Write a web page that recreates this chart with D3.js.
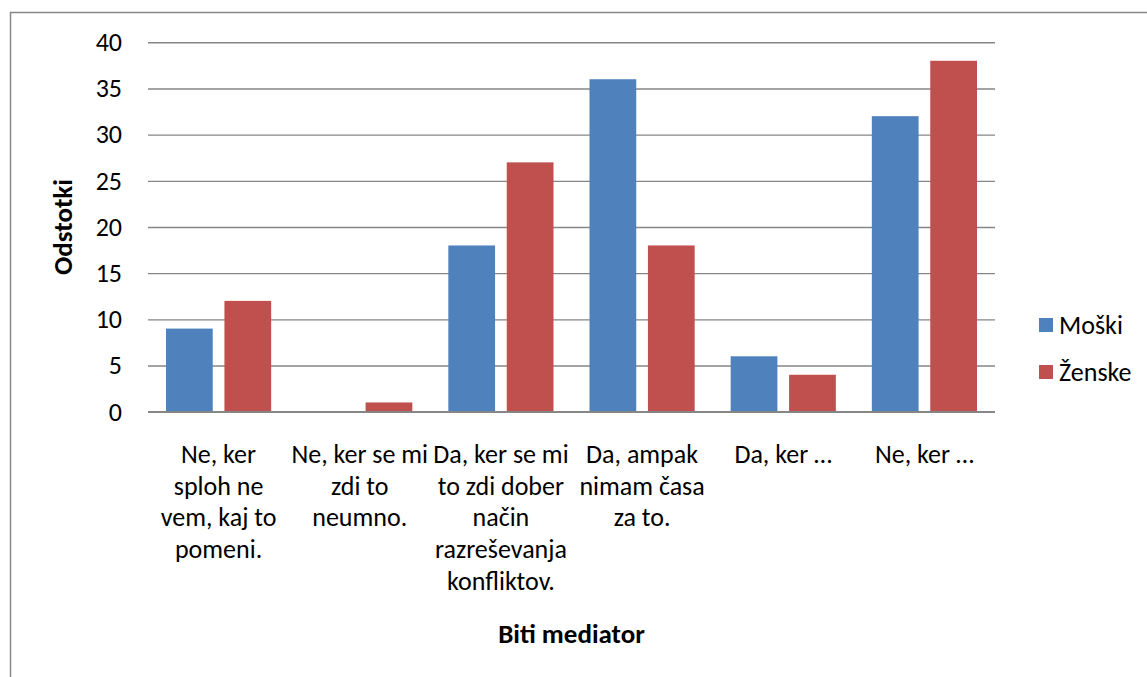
<!DOCTYPE html>
<html lang="sl">
<head>
<meta charset="UTF-8">
<script src="https://d3js.org/d3.v7.min.js"></script>
<style>
  body { margin: 0; background: #fff; }
  svg text { font-family: Carlito, Calibri, Lato, sans-serif; fill: #000; }
</style>
</head>
<body>
<div id="chart"></div>
<script>
// categories (full text) and how they wrap under the axis
const categories = [
  "Ne, ker sploh ne vem, kaj to pomeni.",
  "Ne, ker se mi zdi to neumno.",
  "Da, ker se mi to zdi dober način razreševanja konfliktov.",
  "Da, ampak nimam časa za to.",
  "Da, ker …",
  "Ne, ker …"
];
const categoryLines = [
  ["Ne, ker", "sploh ne", "vem, kaj to", "pomeni."],
  ["Ne, ker se mi", "zdi to", "neumno."],
  ["Da, ker se mi", "to zdi dober", "način", "razreševanja", "konfliktov."],
  ["Da, ampak", "nimam časa", "za to."],
  ["Da, ker …"],
  ["Ne, ker …"]
];
const seriesNames = ["Moški", "Ženske"];
const moski = [9, 0, 18, 36, 6, 32];
const zenske = [12, 1, 27, 18, 4, 38];
const yTicks = [0, 5, 10, 15, 20, 25, 30, 35, 40];
const colors = ["#4F81BD", "#C0504D"];

const W = 1147, H = 677;
const plot = { left: 148, right: 995, top: 42.3, bottom: 411.7 };
const fontSize = 26;
const titleSize = 27;

const svg = d3.select('#chart').append('svg')
    .attr('width', W)
    .attr('height', H);

// outer frame of the chart
svg.append('rect')
    .attr('x', 10.5).attr('y', 12.5)
    .attr('width', 1300).attr('height', 800)
    .attr('fill', 'none')
    .attr('stroke', '#888888')
    .attr('stroke-width', 1.5);

const x0 = d3.scaleBand()
    .domain(categories)
    .range([plot.left, plot.right])
    .padding(0);

const outer = x0.bandwidth() * 0.1275;
const x1 = d3.scaleBand()
    .domain(seriesNames)
    .range([outer, x0.bandwidth() - outer])
    .paddingInner(0.2)
    .paddingOuter(0);

const y = d3.scaleLinear()
    .domain([0, 40])
    .range([plot.bottom, plot.top]);

// gridlines + y labels
const yAxis = svg.append('g')
    .attr('class', 'axis axis--y')
    .attr('transform', 'translate(' + plot.left + ',0)')
    .call(d3.axisLeft(y).tickValues(yTicks).tickSize(-(plot.right - plot.left)).tickPadding(26));
yAxis.select('.domain').remove();
yAxis.selectAll('.tick line')
    .attr('stroke', '#868686')
    .attr('stroke-width', 1.4);
yAxis.selectAll('.tick text')
    .style('font-size', fontSize + 'px')
    .attr('font-family', null);

// bars
const data = categories.map((c, i) => ({ cat: c, values: [moski[i], zenske[i]] }));
const groups = svg.selectAll('.grp')
    .data(data)
    .enter().append('g')
    .attr('class', 'grp')
    .attr('transform', d => 'translate(' + x0(d.cat) + ',0)');

groups.selectAll('rect')
    .data(d => d.values.map((v, j) => ({ name: seriesNames[j], value: v, j: j })))
    .enter().append('rect')
    .attr('x', d => x1(d.name))
    .attr('y', d => y(d.value))
    .attr('width', x1.bandwidth())
    .attr('height', d => y(0) - y(d.value))
    .attr('fill', d => colors[d.j]);

// zero line on top
svg.append('line')
    .attr('x1', plot.left).attr('x2', plot.right)
    .attr('y1', y(0)).attr('y2', y(0))
    .attr('stroke', '#868686')
    .attr('stroke-width', 1.6);

// category labels
const lineH = 31.7;
svg.selectAll('.cat-label')
    .data(categories)
    .enter().append('text')
    .attr('class', 'cat-label')
    .attr('text-anchor', 'middle')
    .style('font-size', fontSize + 'px')
    .each(function (d, i) {
        const t = d3.select(this);
        categoryLines[i].forEach((ln, k) => {
            t.append('tspan')
                .attr('x', x0(d) + x0.bandwidth() / 2)
                .attr('y', 463 + k * lineH)
                .text(ln);
        });
    });

// axis titles
svg.append('text')
    .attr('x', (plot.left + plot.right) / 2)
    .attr('y', 643)
    .attr('text-anchor', 'middle')
    .style('font-size', titleSize + 'px')
    .style('font-weight', 'bold')
    .text('Biti mediator');

svg.append('text')
    .attr('transform', 'translate(72,' + ((plot.top + plot.bottom) / 2) + ') rotate(-90)')
    .attr('text-anchor', 'middle')
    .style('font-size', titleSize + 'px')
    .style('font-weight', 'bold')
    .text('Odstotki');

// legend
const legend = svg.selectAll('.legend')
    .data(seriesNames)
    .enter().append('g')
    .attr('class', 'legend')
    .attr('transform', (d, i) => 'translate(1039,' + (325 + i * 47) + ')');
legend.append('rect')
    .attr('x', 0).attr('y', -7)
    .attr('width', 14).attr('height', 14)
    .attr('fill', (d, i) => colors[i]);
legend.append('text')
    .attr('x', 20)
    .attr('y', 9)
    .style('font-size', fontSize + 'px')
    .text(d => d);
</script>
</body>
</html>
